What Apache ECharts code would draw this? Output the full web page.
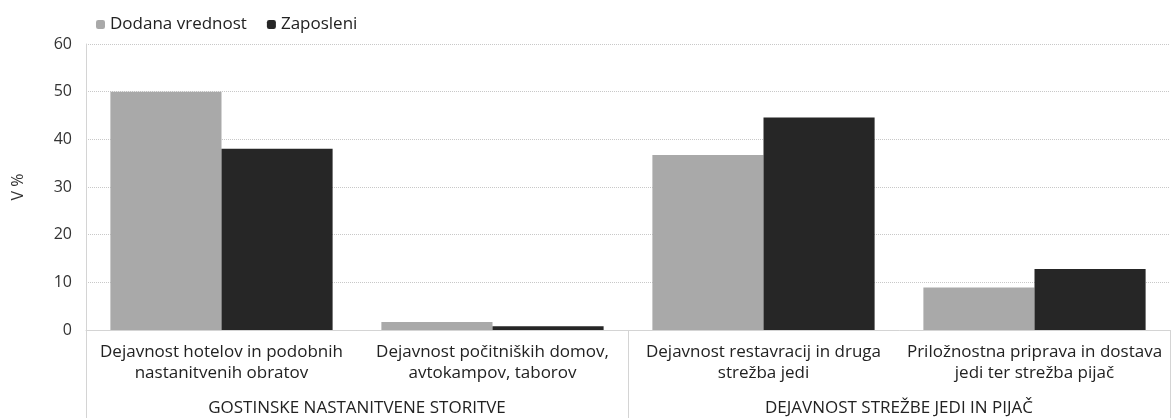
<!DOCTYPE html>
<html>
<head>
<meta charset="utf-8">
<script src="https://cdn.jsdelivr.net/npm/echarts@6/dist/echarts.min.js"></script>
<style>
  html, body { margin: 0; padding: 0; background: #fff; }
  #chart { width: 1172px; height: 418px; }
</style>
</head>
<body>
<div id="chart"></div>
<script>
const categories = [
  'Dejavnost hotelov in podobnih\nnastanitvenih obratov',
  'Dejavnost počitniških domov,\navtokampov, taborov',
  'Dejavnost restavracij in druga\nstrežba jedi',
  'Priložnostna priprava in dostava\njedi ter strežba pijač'
]
const groups = ['GOSTINSKE NASTANITVENE STORITVE', 'DEJAVNOST STREŽBE JEDI IN PIJAČ']
const dodanaVrednost = [50.0, 1.7, 36.7, 8.9]
const zaposleni = [38.0, 0.8, 44.6, 12.8]

const font = '"Open Sans", sans-serif'
const chart = echarts.init(document.getElementById('chart'))
chart.setOption({
  animation: false,
  legend: {
    left: 91,
    top: 11,
    itemWidth: 9,
    itemHeight: 9,
    itemGap: 20,
    textStyle: { fontFamily: font, fontSize: 17, color: '#222' },
    data: ['Dodana vrednost', 'Zaposleni']
  },
  grid: { left: 86, right: 2, top: 44, bottom: 88 },
  xAxis: [
    {
      type: 'category',
      data: categories,
      axisLine: { lineStyle: { color: '#d4d4d4' } },
      axisTick: { show: false },
      axisLabel: {
        interval: 0,
        margin: 12,
        lineHeight: 21,
        fontFamily: font,
        fontSize: 17,
        color: '#222'
      }
    },
    {
      type: 'category',
      data: groups,
      position: 'bottom',
      axisLine: { show: false },
      axisTick: { show: true, length: 88, lineStyle: { color: '#d4d4d4' } },
      axisLabel: {
        interval: 0,
        margin: 70,
        fontFamily: font,
        fontSize: 17,
        color: '#222'
      }
    }
  ],
  yAxis: {
    type: 'value',
    min: 0,
    max: 60,
    interval: 10,
    name: 'V %',
    nameLocation: 'middle',
    nameGap: 60,
    nameTextStyle: { fontFamily: font, fontSize: 16, color: '#333' },
    axisLine: { show: true, lineStyle: { color: '#d4d4d4' } },
    axisTick: { show: false },
    axisLabel: { margin: 14, fontFamily: font, fontSize: 16, color: '#333' },
    splitLine: { lineStyle: { color: '#c8c8c8', type: 'dotted' } }
  },
  series: [
    {
      name: 'Dodana vrednost',
      type: 'bar',
      data: dodanaVrednost,
      barGap: '0%',
      barCategoryGap: '18%',
      itemStyle: { color: '#a9a9a9' }
    },
    {
      name: 'Zaposleni',
      type: 'bar',
      data: zaposleni,
      itemStyle: { color: '#262626' }
    }
  ]
})
</script>
</body>
</html>
